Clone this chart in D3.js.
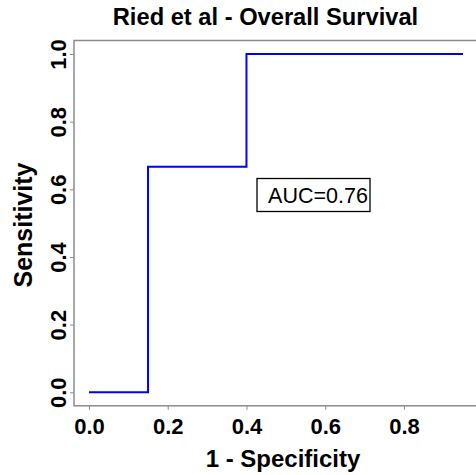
<!DOCTYPE html>
<html>
<head>
<meta charset="utf-8">
<script src="https://cdn.jsdelivr.net/npm/d3@7"></script>
<style>
  body { margin: 0; background: #fff; }
  text { font-family: "Liberation Sans", Arial, sans-serif; }
</style>
</head>
<body>
<div id="chart-area"></div>
<script>
// ROC curve points (1 - specificity, sensitivity)
var fpr = [0, 0.15, 0.15, 0.4, 0.4, 0.95];
var tpr = [0, 0, 0.667, 0.667, 1, 1];
var xTicks = [0, 0.2, 0.4, 0.6, 0.8];
var yTicks = [0, 0.2, 0.4, 0.6, 0.8, 1.0];
var aucLabel = "AUC=0.76";

var width = 476, height = 475;

var svg = d3.select("#chart-area")
    .append("svg")
        .attr("width", width)
        .attr("height", height);

// R style 4% padding on the data range
var xPad = 0.04 * (d3.max(fpr) - d3.min(fpr));
var x = d3.scaleLinear()
    .domain([d3.min(fpr) - xPad, d3.max(fpr) + xPad])
    .range([74, 478]);

var y = d3.scaleLinear()
    .domain([-0.04, 1.04])
    .range([405.8, 40.5]);

// plot box
svg.append("rect")
    .attr("x", x.range()[0])
    .attr("y", y.range()[1])
    .attr("width", x.range()[1] - x.range()[0])
    .attr("height", y.range()[0] - y.range()[1])
    .attr("fill", "none")
    .attr("stroke", "#8c8c8c")
    .attr("stroke-width", 1.5);

// x axis
var xAxis = svg.append("g")
    .attr("transform", "translate(0," + y.range()[0] + ")")
    .call(d3.axisBottom(x).tickValues(xTicks).tickSize(4).tickPadding(8.5).tickFormat(d3.format(".1f")));
xAxis.select(".domain").remove();
xAxis.selectAll("line").attr("stroke", "#8c8c8c");
xAxis.selectAll("text")
    .attr("fill", "#000")
    .style("font-size", "22px")
    .style("font-weight", "bold");

// y axis, labels parallel to the axis
var yAxis = svg.append("g")
    .attr("transform", "translate(" + x.range()[0] + ",0)")
    .call(d3.axisLeft(y).tickValues(yTicks).tickSize(4).tickFormat(d3.format(".1f")));
yAxis.select(".domain").remove();
yAxis.selectAll("line").attr("stroke", "#8c8c8c");
yAxis.selectAll("text")
    .attr("fill", "#000")
    .attr("x", null)
    .attr("dy", null)
    .attr("text-anchor", "middle")
    .attr("transform", "translate(-8.5,0) rotate(-90)")
    .style("font-size", "22px")
    .style("font-weight", "bold");

// ROC line
var line = d3.line()
    .x(function(d, i) { return x(fpr[i]); })
    .y(function(d, i) { return y(tpr[i]); });

svg.append("path")
    .datum(fpr)
    .attr("d", line)
    .attr("fill", "none")
    .attr("stroke", "#0000ff")
    .attr("stroke-width", 2);

// AUC label box
svg.append("rect")
    .attr("x", 257)
    .attr("y", 178.5)
    .attr("width", 113)
    .attr("height", 33)
    .attr("fill", "#fff")
    .attr("stroke", "#000")
    .attr("stroke-width", 1.3);

svg.append("text")
    .attr("x", 318)
    .attr("y", 203)
    .attr("text-anchor", "middle")
    .style("font-size", "21.5px")
    .text(aucLabel);

// title and axis titles
svg.append("text")
    .attr("x", 265.5)
    .attr("y", 25)
    .attr("text-anchor", "middle")
    .style("font-size", "23.7px")
    .style("font-weight", "bold")
    .text("Ried et al - Overall Survival");

svg.append("text")
    .attr("x", 283)
    .attr("y", 467)
    .attr("text-anchor", "middle")
    .style("font-size", "24px")
    .style("font-weight", "bold")
    .text("1 - Specificity");

svg.append("text")
    .attr("transform", "translate(32,225) rotate(-90)")
    .attr("text-anchor", "middle")
    .style("font-size", "25px")
    .style("font-weight", "bold")
    .text("Sensitivity");
</script>
</body>
</html>
